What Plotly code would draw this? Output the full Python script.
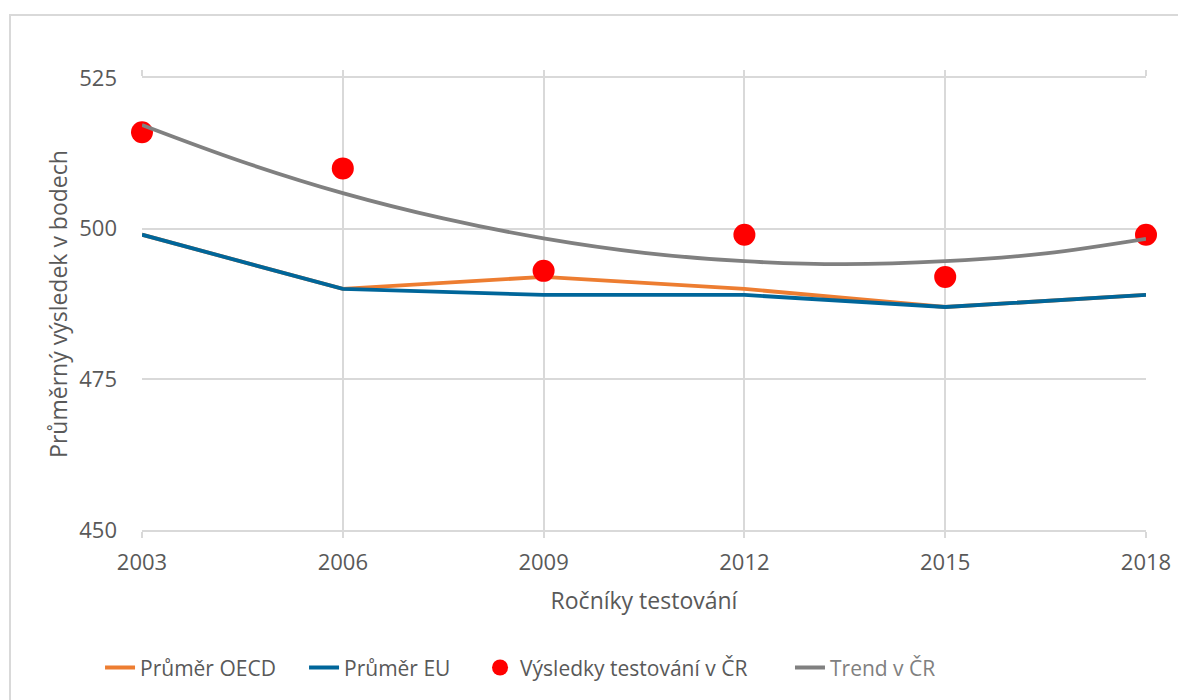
import plotly.graph_objects as go

years = [2003, 2006, 2009, 2012, 2015, 2018]
oecd = [499, 490, 492, 490, 487, 489]
eu = [499, 490, 489, 489, 487, 489]
cr = [516, 510, 493, 499, 492, 499]
trend_years = [2003, 2004.5, 2006, 2007.5, 2009, 2010.5, 2012, 2013.5, 2015, 2016.5, 2018]
trend = [517.2, 511.1, 505.9, 501.7, 498.4, 496.0, 494.6, 494.1, 494.6, 495.9, 498.3]
y_ticks = [450, 475, 500, 525]

FONT = "Open Sans"
TXT = "#595959"

fig = go.Figure()
fig.add_trace(go.Scatter(x=years, y=oecd, mode="lines", name="Průměr OECD", legend="legend",
                         cliponaxis=False, line=dict(color="#ED7D31", width=3.8)))
fig.add_trace(go.Scatter(x=years, y=eu, mode="lines", name="Průměr EU", legend="legend2",
                         cliponaxis=False, line=dict(color="#00669A", width=3.8)))
fig.add_trace(go.Scatter(x=years, y=cr, mode="markers", name="Výsledky testování v ČR", legend="legend3",
                         cliponaxis=False, marker=dict(color="#FF0000", size=22, line=dict(width=0))))
fig.add_trace(go.Scatter(x=trend_years, y=trend, mode="lines", name="Trend v ČR", legend="legend4",
                         cliponaxis=False,
                         line=dict(color="#808080", width=3.8, shape="spline", smoothing=1.0)))


def leg(xp, color=TXT):
    return dict(orientation="h", x=xp, y=-0.305, xanchor="left", yanchor="middle",
                font=dict(size=21, color=color, family=FONT), bgcolor="rgba(0,0,0,0)")


fig.update_layout(
    width=1186, height=700,
    margin=dict(l=134, r=48, t=70, b=178),
    paper_bgcolor="white", plot_bgcolor="white",
    font=dict(family=FONT, color=TXT, size=18),
    showlegend=True,
    legend=leg(-0.0418),
    legend2=leg(0.1614),
    legend3=leg(0.3367),
    legend4=leg(0.6454, "#808080"),
    xaxis=dict(
        range=[2003, 2018], tickmode="array", tickvals=years,
        ticktext=[str(y) for y in years],
        showgrid=True, gridcolor="#D9D9D9", gridwidth=1.5,
        showline=True, linecolor="#D9D9D9", linewidth=1.5, mirror="ticks",
        ticks="outside", ticklen=6, tickcolor="#D9D9D9", tickwidth=1.5,
        ticklabelstandoff=6,
        zeroline=False,
        tickfont=dict(size=22, color=TXT, family=FONT),
        title=dict(text="Ročníky testování", font=dict(size=23, color=TXT, family=FONT), standoff=18),
    ),
    yaxis=dict(
        range=[450, 525], tickmode="array", tickvals=y_ticks,
        showgrid=True, gridcolor="#D9D9D9", gridwidth=1.5,
        showline=False, zeroline=False, ticks="",
        ticklabelstandoff=24,
        tickfont=dict(size=22, color=TXT, family=FONT),
        title=dict(text="Průměrný výsledek v bodech", font=dict(size=23, color=TXT, family=FONT), standoff=5),
    ),
)

fig.add_shape(type="rect", xref="paper", yref="paper",
              x0=(2 - 134) / 1004, x1=(1200 - 134) / 1004,
              y0=(522 - 720) / 452, y1=(522 - 7) / 452,
              line=dict(color="#D9D9D9", width=2), fillcolor="rgba(0,0,0,0)", layer="below")

fig.write_html("out.html")
